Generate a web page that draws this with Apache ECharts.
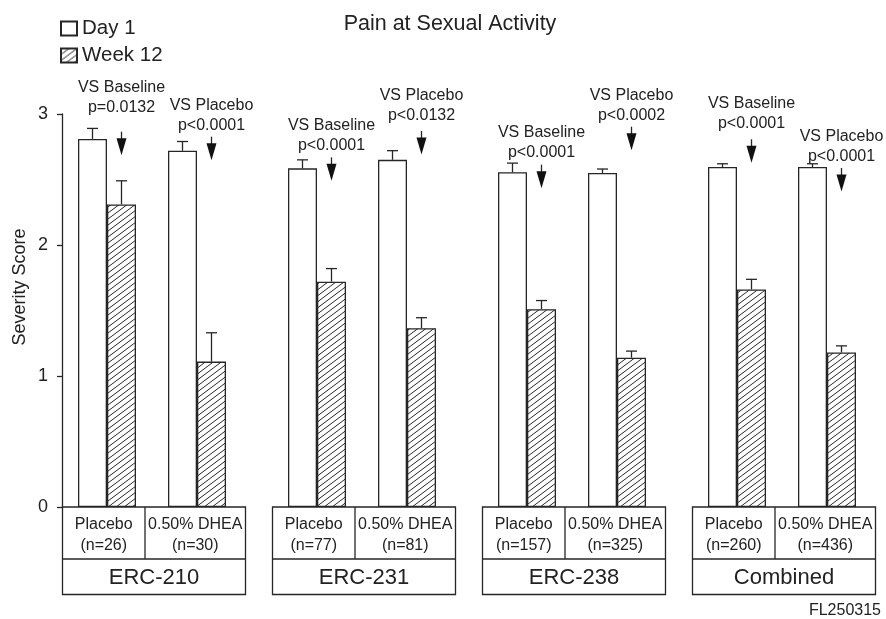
<!DOCTYPE html>
<html>
<head>
<meta charset="utf-8">
<script src="https://cdn.jsdelivr.net/npm/echarts@6/dist/echarts.min.js"></script>
<style>
  html, body { margin: 0; padding: 0; background: #fff; }
  #chart { width: 886px; height: 619px; }
</style>
</head>
<body>
<div id="chart"></div>
<script>
// ---- data ----
const studies = ['ERC-210', 'ERC-231', 'ERC-238', 'Combined'];
const treatments = ['Placebo', '0.50% DHEA'];
const groupSizes = ['(n=26)', '(n=30)', '(n=77)', '(n=81)', '(n=157)', '(n=325)', '(n=260)', '(n=436)'];
const day1Mean = [2.81, 2.72, 2.585, 2.65, 2.555, 2.55, 2.595, 2.595];
const day1SE = [0.08, 0.07, 0.065, 0.07, 0.07, 0.03, 0.025, 0.025];
const week12Mean = [2.31, 1.11, 1.72, 1.365, 1.51, 1.14, 1.66, 1.18];
const week12SE = [0.18, 0.22, 0.10, 0.08, 0.066, 0.05, 0.078, 0.05];
const comparisonNames = ['VS Baseline', 'VS Placebo', 'VS Baseline', 'VS Placebo',
                         'VS Baseline', 'VS Placebo', 'VS Baseline', 'VS Placebo'];
const pValues = ['p=0.0132', 'p<0.0001', 'p<0.0001', 'p<0.0132',
                 'p<0.0001', 'p<0.0002', 'p<0.0001', 'p<0.0001'];
const yTicks = [0, 1, 2, 3];

// ---- layout ----
// score levels (in axis units) for the arrow tops and the first text line of each note
const noteArrowTop = [2.865, 2.827, 2.669, 2.870, 2.613, 2.903, 2.807, 2.588];
const noteTextLevel = [3.200, 3.063, 2.910, 3.141, 2.859, 3.141, 3.080, 2.826];

const FONT = '"Liberation Sans", Arial, Helvetica, sans-serif';
const INK = '#262626';
const TEXT = '#222';
const LW = 1.3;
const BAR_W = 29;
const SLOTS = 27;                       // x band slots; each study spans 7 of them
const slotOf = (s, t) => 1 + 7 * s + 3 * t;
const groupSlot = i => slotOf(Math.floor(i / 2), i % 2);

function slotSeries(values) {
  const arr = new Array(SLOTS).fill('-');
  values.forEach((v, i) => { arr[groupSlot(i)] = v; });
  return arr;
}

// diagonal hatch tile for the Week 12 bars
function makeHatch() {
  const c = document.createElement('canvas');
  c.width = 8; c.height = 6;
  const g = c.getContext('2d');
  g.fillStyle = '#fff';
  g.fillRect(0, 0, 8, 6);
  g.strokeStyle = '#2a2a2a';
  g.lineWidth = 1;
  g.beginPath();
  [-6, 0, 6].forEach(dy => {
    g.moveTo(-1, 6 + dy + 0.75);
    g.lineTo(9, dy - 0.75);
  });
  g.stroke();
  return c;
}
const hatch = { image: makeHatch(), repeat: 'repeat' };

const errData = [];
day1Mean.forEach((m, i) => {
  errData.push([groupSlot(i), m, day1SE[i], -1]);
  errData.push([groupSlot(i), week12Mean[i], week12SE[i], 1]);
});
const noteData = day1Mean.map((_, i) => [groupSlot(i), noteArrowTop[i], noteTextLevel[i]]);
const studyData = studies.map((_, s) => [slotOf(s, 0), slotOf(s, 1)]);

const lineStyle = { stroke: INK, lineWidth: LW };

const chart = echarts.init(document.getElementById('chart'), null, { renderer: 'canvas' });
chart.setOption({
  animation: false,
  backgroundColor: '#fff',
  textStyle: { fontFamily: FONT, color: TEXT },
  title: {
    text: 'Pain at Sexual Activity',
    left: 445, top: 8, textAlign: 'center',
    textStyle: { fontFamily: FONT, fontSize: 21.5, fontWeight: 'normal', color: TEXT }
  },
  legend: {
    data: ['Day 1', 'Week 12'],
    orient: 'vertical',
    left: 60, top: 18, padding: 0,
    icon: 'rect',
    itemWidth: 16, itemHeight: 14, itemGap: 6,
    selectedMode: false,
    textStyle: { fontFamily: FONT, fontSize: 20.5, color: TEXT }
  },
  grid: { left: 62, right: 14, top: 114, bottom: 112 },
  xAxis: {
    type: 'category',
    data: Array.from({ length: SLOTS }, (_, k) => String(k)),
    show: false
  },
  yAxis: {
    type: 'value',
    min: yTicks[0], max: yTicks[yTicks.length - 1], interval: 1,
    axisLine: { show: true, lineStyle: { color: INK, width: LW } },
    axisTick: { show: true, length: 5, lineStyle: { color: INK, width: LW } },
    axisLabel: { fontFamily: FONT, fontSize: 18, color: TEXT, margin: 14 },
    splitLine: { show: false }
  },
  graphic: [
    {
      type: 'text', x: 20.5, y: 287, rotation: Math.PI / 2,
      style: { text: 'Severity Score', font: '18px ' + FONT, fill: TEXT,
               textAlign: 'center', textVerticalAlign: 'middle' }
    },
    {
      type: 'text', x: 881, y: 611,
      style: { text: 'FL250315', font: '16px ' + FONT, fill: TEXT,
               textAlign: 'right', textVerticalAlign: 'middle' }
    }
  ],
  series: [
    {
      name: 'Day 1', type: 'bar', data: slotSeries(day1Mean),
      barWidth: BAR_W, barGap: '0%',
      itemStyle: { color: '#fff', borderColor: INK, borderWidth: LW }
    },
    {
      name: 'Week 12', type: 'bar', data: slotSeries(week12Mean),
      barWidth: BAR_W, barGap: '0%',
      itemStyle: { color: hatch, borderColor: INK, borderWidth: LW }
    },
    {
      // one-sided standard-error whiskers
      type: 'custom', silent: true, z: 3,
      data: errData, encode: { x: 0, y: 1 },
      renderItem(params, api) {
        const cat = api.value(0), m = api.value(1), se = api.value(2), side = api.value(3);
        const base = api.coord([cat, m]);
        const top = api.coord([cat, m + se]);
        const x = base[0] + side * BAR_W / 2;
        return {
          type: 'group',
          children: [
            { type: 'line', shape: { x1: x, y1: base[1], x2: x, y2: top[1] }, style: lineStyle },
            { type: 'line', shape: { x1: x - 5.5, y1: top[1], x2: x + 5.5, y2: top[1] }, style: lineStyle }
          ]
        };
      }
    },
    {
      // comparison notes with downward arrows over the Week 12 bars
      type: 'custom', silent: true, z: 3,
      data: noteData, encode: { x: 0, y: 1 },
      renderItem(params, api) {
        const i = params.dataIndex;
        const a = api.coord([api.value(0), api.value(1)]);
        const t = api.coord([api.value(0), api.value(2)]);
        const x = a[0] + BAR_W / 2;
        const y = a[1];
        return {
          type: 'group',
          children: [
            { type: 'text', x: x, y: t[1],
              style: { text: comparisonNames[i], font: '16px ' + FONT, fill: TEXT,
                       textAlign: 'center', textVerticalAlign: 'middle' } },
            { type: 'text', x: x, y: t[1] + 20,
              style: { text: pValues[i], font: '16px ' + FONT, fill: TEXT,
                       textAlign: 'center', textVerticalAlign: 'middle' } },
            { type: 'line', shape: { x1: x, y1: y, x2: x, y2: y + 8 }, style: lineStyle },
            { type: 'polygon', shape: { points: [[x - 5, y + 6.5], [x + 5, y + 6.5], [x, y + 23.5]] },
              style: { fill: '#111' } }
          ]
        };
      }
    },
    {
      // category table under the bars: treatment / n, then study
      type: 'custom', silent: true, z: 3, clip: false,
      data: studyData, encode: { x: 0 },
      renderItem(params, api) {
        const s = params.dataIndex;
        const a = api.coord([api.value(0), 0]);
        const b = api.coord([api.value(1), 0]);
        const left = a[0] - 44.5, right = b[0] + 48.5, div = a[0] + 38;
        const top = a[1], mid = top + 52, bottom = top + 87.5;
        const cell = (txt, cx, cy, size) => ({
          type: 'text', x: cx, y: cy,
          style: { text: txt, font: size + 'px ' + FONT, fill: TEXT,
                   textAlign: 'center', textVerticalAlign: 'middle' }
        });
        return {
          type: 'group',
          children: [
            { type: 'rect', shape: { x: left, y: top, width: right - left, height: bottom - top },
              style: { fill: 'none', stroke: INK, lineWidth: LW } },
            { type: 'line', shape: { x1: left, y1: mid, x2: right, y2: mid }, style: lineStyle },
            { type: 'line', shape: { x1: div, y1: top, x2: div, y2: mid }, style: lineStyle },
            cell(treatments[0], (left + div) / 2, top + 18, 16),
            cell(groupSizes[2 * s], (left + div) / 2, top + 38.5, 16),
            cell(treatments[1], (div + right) / 2, top + 18, 16),
            cell(groupSizes[2 * s + 1], (div + right) / 2, top + 38.5, 16),
            cell(studies[s], (left + right) / 2, (mid + bottom) / 2 + 1.5, 22)
          ]
        };
      }
    }
  ]
});
</script>
</body>
</html>
